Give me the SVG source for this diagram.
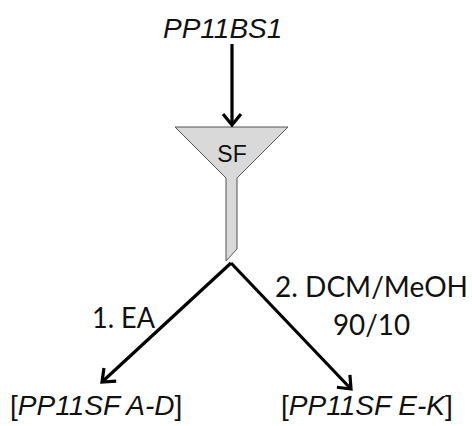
<svg xmlns="http://www.w3.org/2000/svg" width="472" height="426" viewBox="0 0 472 426">
<style>
.name{font-family:"Liberation Sans",Arial,sans-serif;font-style:italic;font-size:28px;fill:#111}
.br{font-style:normal}
.lbl{font-family:Lato,"Open Sans",sans-serif;font-size:28px;fill:#111}
.sf{font-family:"Liberation Sans",Arial,sans-serif;font-size:23px;fill:#111}
.conn{stroke:#000;stroke-width:3.2;fill:none}
</style>
<defs>
<marker id="ah" markerUnits="userSpaceOnUse" markerWidth="24" markerHeight="24" viewBox="-14 -12 16 24" refX="0" refY="0" orient="auto">
<path d="M-11,-9 L0,0 L-11,9" fill="none" stroke="#000" stroke-width="3.2"/>
</marker>
</defs>
<rect width="472" height="426" fill="#fff"/>
<g id="source">
<text class="name" x="163" y="38">PP11BS1</text>
</g>
<g id="funnel">
<polygon points="175,127 288,127 237,178 237,249 226,261 226,178" fill="#d9d9d9" stroke="#555" stroke-width="1"/>
<text class="sf" x="232" y="162" text-anchor="middle">SF</text>
</g>
<g id="fractionAD">
<text class="name" x="10" y="415"><tspan class="br">[</tspan>PP11SF A-D<tspan class="br">]</tspan></text>
</g>
<g id="fractionEK">
<text class="name" x="281" y="415"><tspan class="br">[</tspan>PP11SF E-K<tspan class="br">]</tspan></text>
</g>
<g id="connectors">
<path class="conn" d="M232,44 L232,125" marker-end="url(#ah)"/>
<path class="conn" d="M231,263 L102,382" marker-end="url(#ah)"/>
<path class="conn" d="M231,263 L351,389" marker-end="url(#ah)"/>
<text class="lbl" x="92" y="328" textLength="63" lengthAdjust="spacingAndGlyphs">1. EA</text>
<text class="lbl" x="275" y="297" textLength="193" lengthAdjust="spacingAndGlyphs">2. DCM/MeOH</text>
<text class="lbl" x="333" y="335" textLength="77" lengthAdjust="spacingAndGlyphs">90/10</text>
</g>
</svg>
